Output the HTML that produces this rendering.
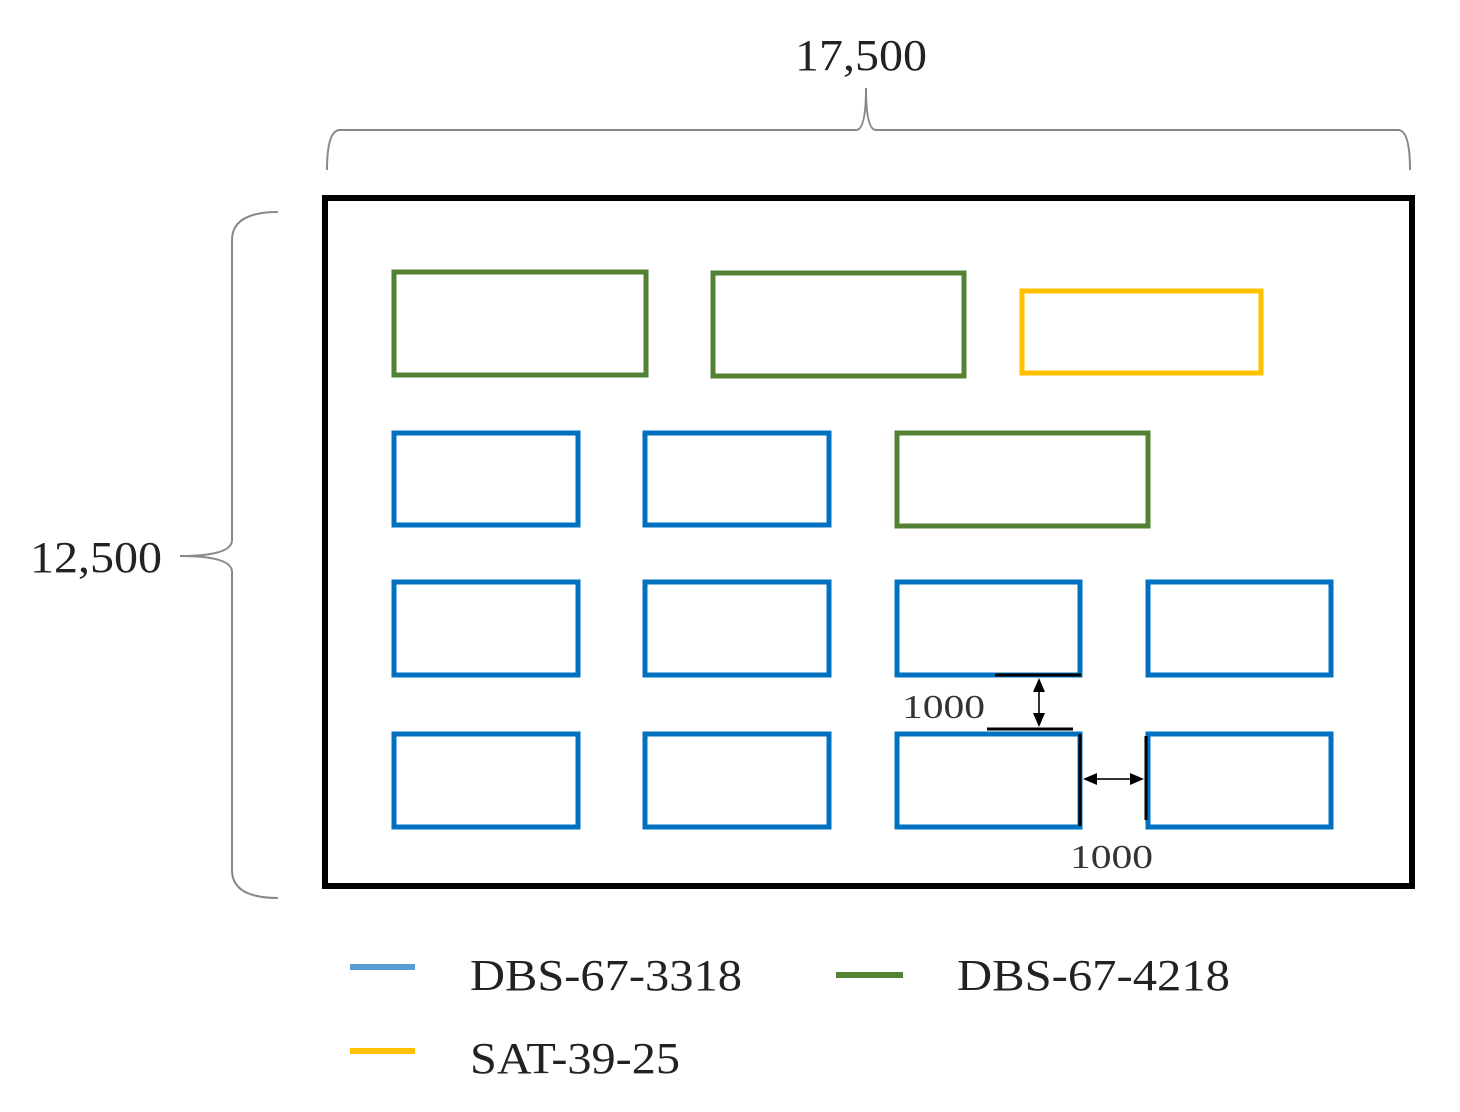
<!DOCTYPE html>
<html><head><meta charset="utf-8"><style>html,body{margin:0;padding:0;background:#fff}</style></head>
<body>
<svg width="1460" height="1107" viewBox="0 0 1460 1107" xmlns="http://www.w3.org/2000/svg" font-family="Liberation Serif, serif">
<rect x="0" y="0" width="1460" height="1107" fill="#fff"/>
<path d="M327,170 Q327,130 340,130 L856,130 Q866,130 866,88 Q866,130 876,130 L1398,130 Q1410,130 1410,170" fill="none" stroke="#888" stroke-width="2"/>
<text x="795" y="70" font-size="44" textLength="132" lengthAdjust="spacingAndGlyphs" fill="#222">17,500</text>
<path d="M278,212 Q232,212 232,240 L232,540 Q232,556 180,556 Q232,556 232,572 L232,870 Q232,898 278,898" fill="none" stroke="#888" stroke-width="2"/>
<text x="30" y="572" font-size="44" textLength="132" lengthAdjust="spacingAndGlyphs" fill="#222">12,500</text>
<rect x="325" y="198" width="1087" height="688" fill="none" stroke="#000" stroke-width="6"/>
<g fill="none" stroke-width="5">
<rect x="394" y="272" width="252" height="103" stroke="#548235"/>
<rect x="713" y="273" width="251" height="103" stroke="#548235"/>
<rect x="1022" y="291" width="239" height="82" stroke="#FFC000"/>
<rect x="394" y="433" width="184" height="92" stroke="#0070C0"/>
<rect x="645" y="433" width="184" height="92" stroke="#0070C0"/>
<rect x="897" y="433" width="251" height="93" stroke="#548235"/>
<rect x="394" y="582" width="184" height="93" stroke="#0070C0"/>
<rect x="645" y="582" width="184" height="93" stroke="#0070C0"/>
<rect x="897" y="582" width="183" height="93" stroke="#0070C0"/>
<rect x="1148" y="582" width="183" height="93" stroke="#0070C0"/>
<rect x="394" y="734" width="184" height="93" stroke="#0070C0"/>
<rect x="645" y="734" width="184" height="93" stroke="#0070C0"/>
<rect x="897" y="734" width="183" height="93" stroke="#0070C0"/>
<rect x="1148" y="734" width="183" height="93" stroke="#0070C0"/>
</g>
<g stroke="#000" stroke-width="3">
<line x1="995" y1="675" x2="1081" y2="675"/>
<line x1="987" y1="729" x2="1073" y2="729"/>
<line x1="1080" y1="734" x2="1080" y2="826"/>
<line x1="1146" y1="736" x2="1146" y2="820"/>
</g>
<line x1="1039" y1="684" x2="1039" y2="720" stroke="#333" stroke-width="2"/>
<polygon points="1039,678 1033,692 1045,692" fill="#000"/>
<polygon points="1039,727 1033,713 1045,713" fill="#000"/>
<line x1="1090" y1="779" x2="1138" y2="779" stroke="#333" stroke-width="2"/>
<polygon points="1083,779 1097,773 1097,785" fill="#000"/>
<polygon points="1144,779 1130,773 1130,785" fill="#000"/>
<text x="902" y="718" font-size="34" textLength="83" lengthAdjust="spacingAndGlyphs" fill="#333">1000</text>
<text x="1070" y="868" font-size="34" textLength="83" lengthAdjust="spacingAndGlyphs" fill="#333">1000</text>
<line x1="350" y1="967" x2="415" y2="967" stroke="#5B9BD5" stroke-width="6"/>
<text x="470" y="990" font-size="44" textLength="272" lengthAdjust="spacingAndGlyphs" fill="#222">DBS-67-3318</text>
<line x1="836" y1="975" x2="903" y2="975" stroke="#548235" stroke-width="6"/>
<text x="957" y="990" font-size="44" textLength="273" lengthAdjust="spacingAndGlyphs" fill="#222">DBS-67-4218</text>
<line x1="350" y1="1051" x2="415" y2="1051" stroke="#FFC000" stroke-width="6"/>
<text x="470" y="1073" font-size="44" textLength="210" lengthAdjust="spacingAndGlyphs" fill="#222">SAT-39-25</text>
</svg>
</body></html>
